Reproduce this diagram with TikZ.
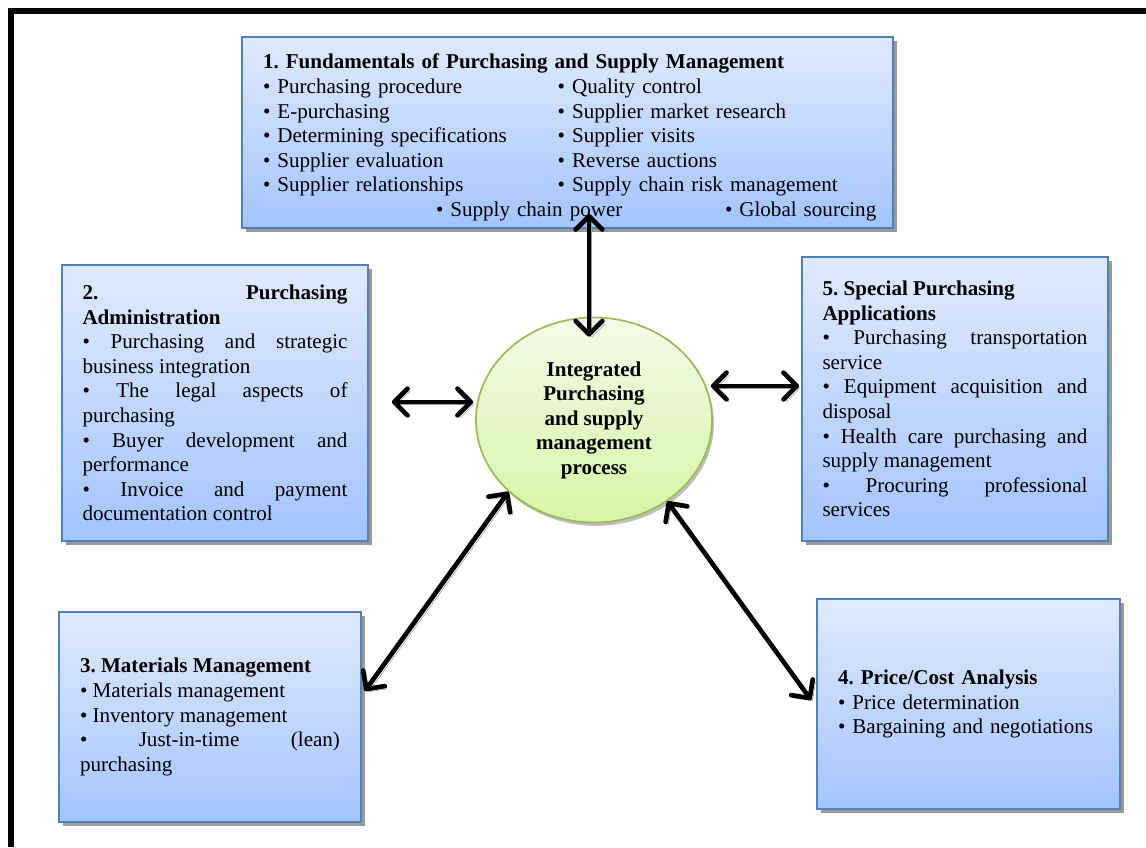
\documentclass[tikz,border=0pt]{standalone}
\usepackage{fontspec}
\setmainfont{Liberation Serif}
\usepackage{tikz}
\definecolor{boxline}{RGB}{79,129,189}
\definecolor{boxtop}{RGB}{224,234,254}
\definecolor{boxbot}{RGB}{163,196,255}
\definecolor{coreline}{RGB}{155,187,89}
\definecolor{coretop}{RGB}{243,251,233}
\definecolor{corebot}{RGB}{213,245,166}
\usetikzlibrary{positioning}
\usetikzlibrary{shadows}
\usetikzlibrary{calc}
\usetikzlibrary{arrows.meta}
\usetikzlibrary{shapes.geometric}
\frenchspacing
\newcommand{\bodysize}{\fontsize{15.8pt}{18.4pt}\selectfont\parindent=0pt}
\newcommand{\twocol}[2]{\makebox[221pt][l]{#1}#2}
\tikzset{topic/.style={draw=boxline,line width=1.3pt,top color=boxtop,bottom color=boxbot,inner sep=0pt,font=\bodysize,
    drop shadow={shadow xshift=3pt,shadow yshift=-3pt,fill=black!40,opacity=1}}}
\tikzset{core/.style={ellipse,draw=coreline,line width=1.3pt,top color=coretop,bottom color=corebot,inner sep=0pt,
    minimum width=177pt,minimum height=153.75pt,align=center,font=\bodysize\bfseries,
    drop shadow={shadow xshift=1.5pt,shadow yshift=-2.5pt,fill=black!25,opacity=1}}}
\tikzset{link/.style={line width=3.5pt,
    {Straight Barb[length=10pt,width=20pt,round]}-{Straight Barb[length=10pt,width=20pt,round]},
    preaction={draw=black!40,transform canvas={xshift=2pt,yshift=-2pt}}}}

\begin{document}
\begin{tikzpicture}[x=0.75pt,y=-0.75pt]
  \useasboundingbox (0,0) rectangle (1146,847);
  \draw[line width=4.5pt] (11,847) -- (11,10.5) -- (1146,10.5);

  \node[core] (circ) at (594,420) {Integrated\\Purchasing\\and supply\\management\\process};

  \node[topic,minimum width=488.25pt,minimum height=143.25pt,text width=456.75pt,align=left] (fund) at (567.5,132.5) {%
    \rule{0pt}{18.5pt}\textbf{1. Fundamentals of Purchasing and Supply Management}\\
    \twocol{• Purchasing procedure}{• Quality control}\\
    \twocol{• E-purchasing}{• Supplier market research}\\
    \twocol{• Determining specifications}{• Supplier visits}\\
    \twocol{• Supplier evaluation}{• Reverse auctions}\\
    \twocol{• Supplier relationships}{• Supply chain risk management}\\
    \makebox[\linewidth][l]{\hspace*{129.75pt}\makebox[216.75pt][l]{• Supply chain power}• Global sourcing}};

  \node[topic,minimum width=229.5pt,minimum height=207pt,text width=198.75pt,align=justify] (admin) at (215,403) {%
    \textbf{2. Purchasing\linebreak Administration}\par
    • Purchasing and strategic\linebreak business integration\par
    • The legal aspects of\linebreak purchasing\par
    • Buyer development and\linebreak performance\par
    • Invoice and payment\linebreak documentation control};

  \node[topic,minimum width=229.5pt,minimum height=213pt,text width=198.75pt,align=justify] (spec) at (955,399) {%
    \textbf{5. Special Purchasing\newline Applications}\par
    • Purchasing transportation\linebreak service\par
    • Equipment acquisition and\linebreak disposal\par
    • Health care purchasing and\linebreak supply management\par
    • Procuring professional\linebreak services};

  \node[topic,minimum width=226.5pt,minimum height=157.5pt,text width=195pt,align=justify] (mat) at (210,717) {%
    \textbf{3. Materials Management}\par
    • Materials management\par
    • Inventory management\par
    • Just-in-time (lean)\linebreak purchasing};

  \node[topic,minimum width=227.25pt,minimum height=157.5pt,text width=195.75pt,align=left] (price) at (968.5,704) {%
    \textbf{4. Price/Cost Analysis}\\
    • Price determination\\
    • Bargaining and negotiations};

  \draw[link] ($(fund.south -| circ.north)+(-5,-15)$) -- ($(circ.north)+(-5,20)$);
  \draw[link] ($(admin.east)+(23,-1)$) -- ($(admin.east -| circ.west)+(-2,-1)$);
  \draw[link] ($(circ.east)+(-2,-34)$) -- ($(spec.west |- circ.east)+(-2,-34)$);
  \draw[link] ($(mat.east)+(3,-26)$) -- (circ.220);
  \draw[link] (circ.-48) -- ($(price.west)+(-5,-4)$);
\end{tikzpicture}
\end{document}
